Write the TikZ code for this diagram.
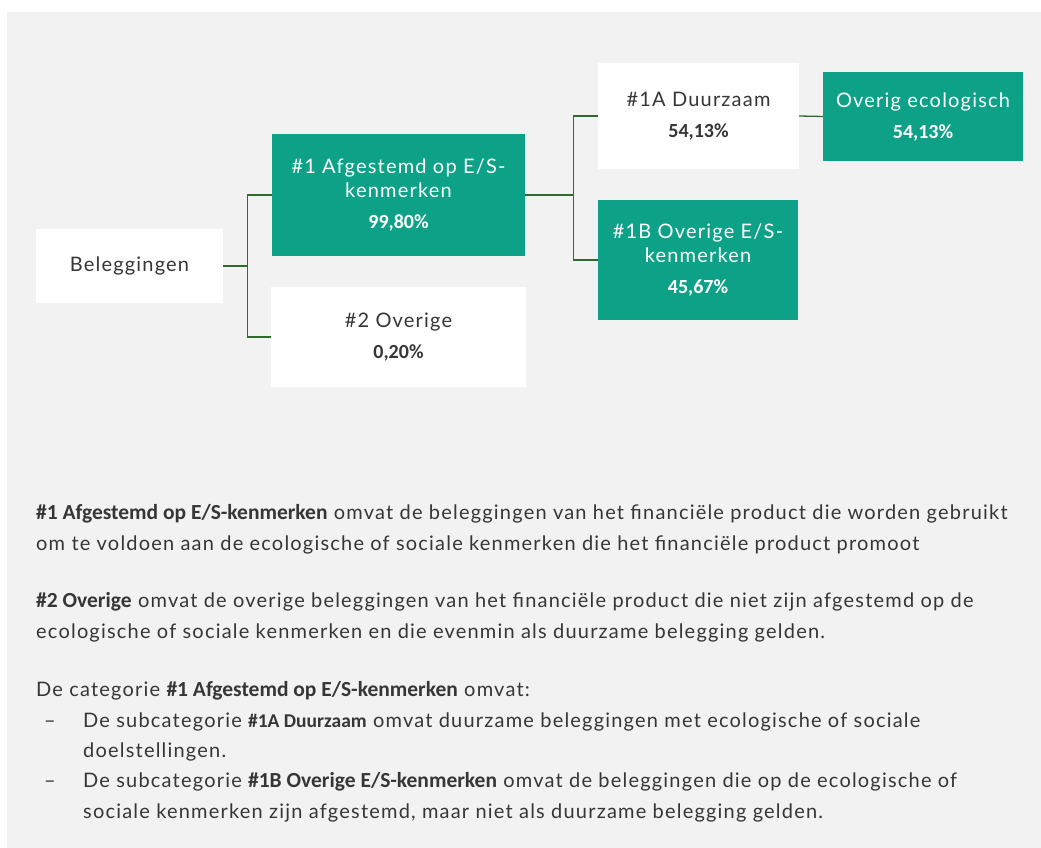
\documentclass[tikz,border=0pt]{standalone}
\usepackage{fontspec}
\setmainfont{Lato}[LetterSpace=6]
\newfontfamily\carlito{Carlito}
\usetikzlibrary{positioning}
\definecolor{achtergrond}{HTML}{F2F2F2}
\definecolor{groen}{HTML}{0DA287}
\definecolor{lijn}{HTML}{2F6B2F}
\definecolor{tekst}{HTML}{363636}
\newcommand{\vet}[1]{{\carlito\bfseries #1}}
\newcommand{\kop}[1]{{\carlito\bfseries\fontsize{21.5}{30}\selectfont #1}}
\tikzset{
wit/.style={fill=white, text=tekst, align=center, inner sep=0pt, font=\fontsize{20}{24}\selectfont},
groenvak/.style={wit, fill=groen, text=white},
verbind/.style={draw=lijn, line width=1.3pt},
uitleg/.style={anchor=base west, align=left, text=tekst, inner sep=0pt, font=\fontsize{20}{30.3}\selectfont}
}
\begin{document}
\begin{tikzpicture}[x=1pt,y=-1pt]
\useasboundingbox (0,0) rectangle (1041,848);
\fill[achtergrond] (7,12) rectangle (1041,848);
% boomstructuur
\node[wit, minimum width=187, minimum height=74] (bel) at (129.5,266) {Beleggingen};
\node[groenvak, minimum width=253, minimum height=122] (af) at (398.5,195) {\#1 Afgestemd op E/S-\\kenmerken\\[7pt]\vet{99,80\%}};
\node[wit, minimum width=255, minimum height=100] (ov) at (398.5,337) {\#2 Overige\\[7pt]\vet{0,20\%}};
\node[wit, minimum width=201, minimum height=106] (dA) at (698.5,116) {\#1A Duurzaam\\[7pt]\vet{54,13\%}};
\node[groenvak, minimum width=200, minimum height=120] (oB) at (698,260) {\#1B Overige E/S-\\kenmerken\\[7pt]\vet{45,67\%}};
\node[groenvak, minimum width=200, minimum height=89] (eco) at (923,116.5) {Overig ecologisch\\[7pt]\vet{54,13\%}};
\draw[verbind] (bel.east) -- ++(24,0) coordinate (tak1) |- (af.west);
\draw[verbind] (tak1) |- (ov.west);
\draw[verbind] (af.east) -- ++(48,0) coordinate (tak2) |- (dA.west);
\draw[verbind] (tak2) |- (oB.west);
\draw[verbind] (dA.east) -- (eco.west);
% toelichting (basislijn van de laatste regel)
\node[uitleg] (p1) at (36,550) {\kop{\#1 Afgestemd op E/S-kenmerken} omvat de beleggingen van het financiële product die worden gebruikt\\om te voldoen aan de ecologische of sociale kenmerken die het financiële product promoot};
\node[uitleg] (p2) at (36,638) {\kop{\#2 Overige} omvat de overige beleggingen van het financiële product die niet zijn afgestemd op de\\ecologische of sociale kenmerken en die evenmin als duurzame belegging gelden.};
\node[uitleg] (p3) at (36,818) {De categorie \kop{\#1 Afgestemd op E/S-kenmerken} omvat:\\
\makebox[47pt][l]{\hspace{8pt}--}De subcategorie {\carlito\bfseries\fontsize{19.5}{30}\selectfont\#1A Duurzaam} omvat duurzame beleggingen met ecologische of sociale\\
\hspace*{47pt}doelstellingen.\\
\makebox[47pt][l]{\hspace{8pt}--}De subcategorie \kop{\#1B Overige E/S-kenmerken} omvat de beleggingen die op de ecologische of\\
\hspace*{47pt}sociale kenmerken zijn afgestemd, maar niet als duurzame belegging gelden.};
\end{tikzpicture}
\end{document}
